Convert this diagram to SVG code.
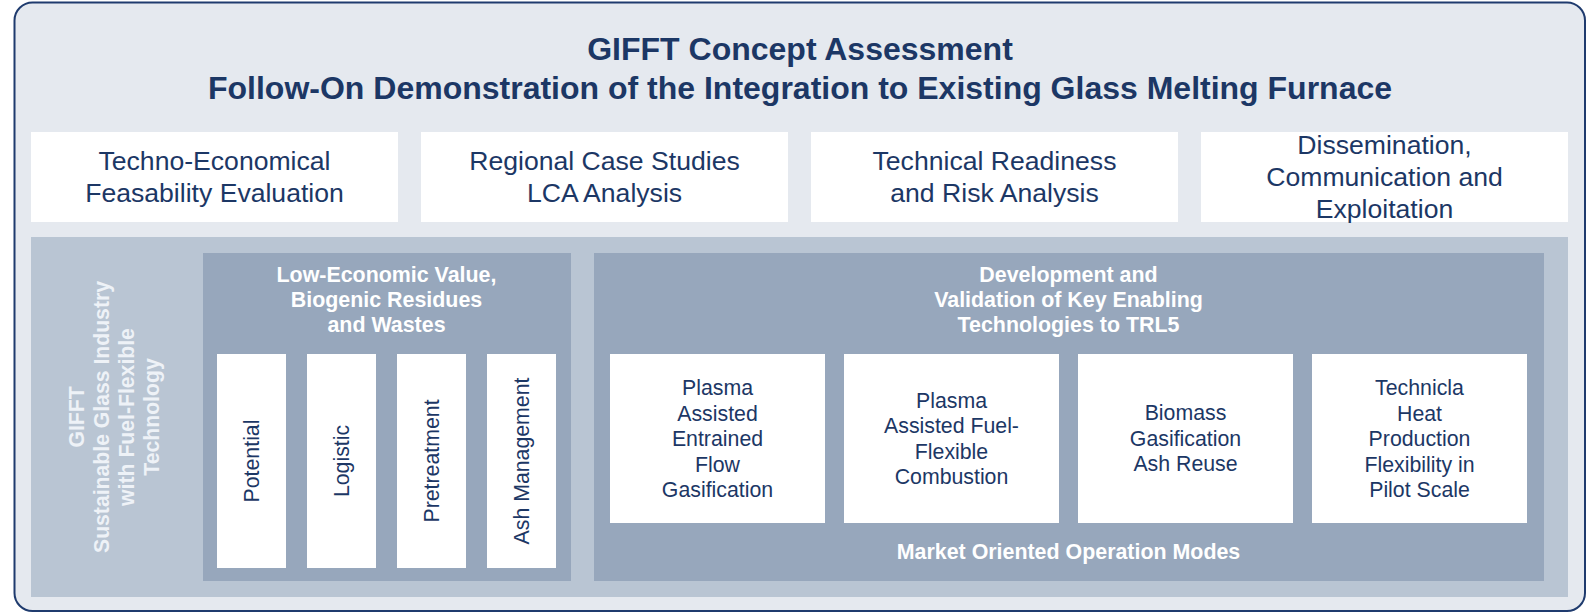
<svg xmlns="http://www.w3.org/2000/svg" width="1593" height="613" viewBox="0 0 1593 613">
  <style>
    .frame { fill: #e5e9ef; stroke: #1f3b6e; stroke-width: 2; }
    .panel { fill: #b9c5d3; }
    .group { fill: #97a7bc; }
    .card { fill: #ffffff; }
    text { font-family: "Liberation Sans", Arial, sans-serif; text-anchor: middle; }
    .title { font-size: 32px; font-weight: bold; fill: #1c3765; }
    .top { font-size: 26.6px; fill: #1c3765; }
    .head { font-size: 21.4px; font-weight: bold; fill: #ffffff; }
    .item { font-size: 21.3px; fill: #1c3765; }
    .side { font-size: 21.2px; font-weight: bold; fill: #eef2f7; }
  </style>

  <!-- outer frame and title -->
  <g id="frame">
    <rect class="frame" x="14.5" y="2.5" width="1570.5" height="608.5" rx="18"/>
    <text class="title" x="800" y="60">GIFFT Concept Assessment</text>
    <text class="title" x="800" y="99">Follow-On Demonstration of the Integration to Existing Glass Melting Furnace</text>
  </g>

  <!-- assessment work packages -->
  <g id="techno-economical">
    <rect class="card" x="31" y="132" width="367" height="90"/>
    <text class="top" x="214.5" y="170">Techno-Economical</text>
    <text class="top" x="214.5" y="202">Feasability Evaluation</text>
  </g>
  <g id="regional-case-studies">
    <rect class="card" x="421" y="132" width="367" height="90"/>
    <text class="top" x="604.5" y="170">Regional Case Studies</text>
    <text class="top" x="604.5" y="202">LCA Analysis</text>
  </g>
  <g id="technical-readiness">
    <rect class="card" x="811" y="132" width="367" height="90"/>
    <text class="top" x="994.5" y="170">Technical Readiness</text>
    <text class="top" x="994.5" y="202">and Risk Analysis</text>
  </g>
  <g id="dissemination">
    <rect class="card" x="1201" y="132" width="367" height="90"/>
    <text class="top" x="1384.5" y="154">Dissemination,</text>
    <text class="top" x="1384.5" y="186">Communication and</text>
    <text class="top" x="1384.5" y="218">Exploitation</text>
  </g>

  <!-- GIFFT technology panel -->
  <g id="gifft-panel">
    <rect class="panel" x="31" y="237" width="1537" height="360"/>
    <g transform="translate(83.5 417) rotate(-90)">
      <text class="side" x="0" y="0">GIFFT</text>
      <text class="side" x="0" y="25.3">Sustainable Glass Industry</text>
      <text class="side" x="0" y="50.6">with Fuel-Flexible</text>
      <text class="side" x="0" y="75.9">Technology</text>
    </g>
  </g>

  <!-- feedstock group -->
  <g id="feedstock">
    <rect class="group" x="203" y="253" width="368" height="328"/>
    <text class="head" x="386.5" y="282">Low-Economic Value,</text>
    <text class="head" x="386.5" y="307">Biogenic Residues</text>
    <text class="head" x="386.5" y="332">and Wastes</text>
  </g>
  <g id="potential">
    <rect class="card" x="217" y="354" width="69" height="214"/>
    <text class="item" transform="translate(259 461) rotate(-90)">Potential</text>
  </g>
  <g id="logistic">
    <rect class="card" x="307" y="354" width="69" height="214"/>
    <text class="item" transform="translate(349 461) rotate(-90)">Logistic</text>
  </g>
  <g id="pretreatment">
    <rect class="card" x="397" y="354" width="69" height="214"/>
    <text class="item" transform="translate(439 461) rotate(-90)">Pretreatment</text>
  </g>
  <g id="ash-management">
    <rect class="card" x="487" y="354" width="69" height="214"/>
    <text class="item" transform="translate(529 461) rotate(-90)">Ash Management</text>
  </g>

  <!-- key enabling technologies group -->
  <g id="key-technologies">
    <rect class="group" x="594" y="253" width="950" height="328"/>
    <text class="head" x="1068.5" y="282">Development and</text>
    <text class="head" x="1068.5" y="307">Validation of Key Enabling</text>
    <text class="head" x="1068.5" y="332">Technologies to TRL5</text>
    <text class="head" x="1068.5" y="559">Market Oriented Operation Modes</text>
  </g>
  <g id="entrained-flow">
    <rect class="card" x="610" y="354" width="215" height="169"/>
    <text class="item" x="717.5" y="395">Plasma</text>
    <text class="item" x="717.5" y="420.5">Assisted</text>
    <text class="item" x="717.5" y="446">Entrained</text>
    <text class="item" x="717.5" y="471.5">Flow</text>
    <text class="item" x="717.5" y="497">Gasification</text>
  </g>
  <g id="fuel-flexible-combustion">
    <rect class="card" x="844" y="354" width="215" height="169"/>
    <text class="item" x="951.5" y="407.5">Plasma</text>
    <text class="item" x="951.5" y="433">Assisted Fuel-</text>
    <text class="item" x="951.5" y="458.5">Flexible</text>
    <text class="item" x="951.5" y="484">Combustion</text>
  </g>
  <g id="ash-reuse">
    <rect class="card" x="1078" y="354" width="215" height="169"/>
    <text class="item" x="1185.5" y="420">Biomass</text>
    <text class="item" x="1185.5" y="445.5">Gasification</text>
    <text class="item" x="1185.5" y="471">Ash Reuse</text>
  </g>
  <g id="heat-production">
    <rect class="card" x="1312" y="354" width="215" height="169"/>
    <text class="item" x="1419.5" y="395">Technicla</text>
    <text class="item" x="1419.5" y="420.5">Heat</text>
    <text class="item" x="1419.5" y="446">Production</text>
    <text class="item" x="1419.5" y="471.5">Flexibility in</text>
    <text class="item" x="1419.5" y="497">Pilot Scale</text>
  </g>
</svg>
